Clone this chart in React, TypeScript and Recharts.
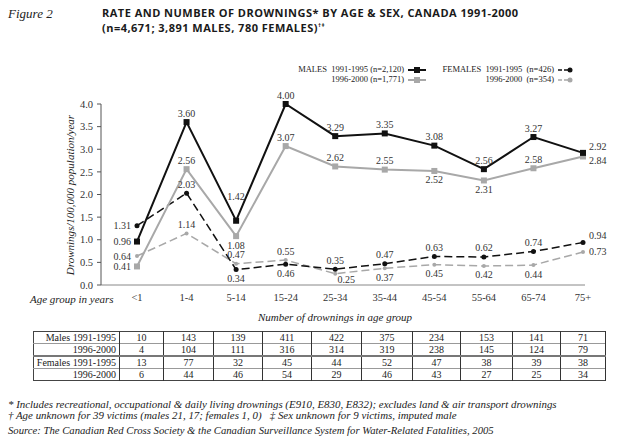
import { LineChart, Line, XAxis, YAxis, LabelList } from "recharts"

const ageGroups = ["<1", "1-4", "5-14", "15-24", "25-34", "35-44", "45-54", "55-64", "65-74", "75+"]
const yTicks = [0, 0.5, 1, 1.5, 2, 2.5, 3, 3.5, 4]

// rates per 100,000 population per year
const males9195 = [0.96, 3.6, 1.42, 4.0, 3.29, 3.35, 3.08, 2.56, 3.27, 2.92]
const males9600 = [0.41, 2.56, 1.08, 3.07, 2.62, 2.55, 2.52, 2.31, 2.58, 2.84]
const females9195 = [1.31, 2.03, 0.34, 0.46, 0.35, 0.47, 0.63, 0.62, 0.74, 0.94]
const females9600 = [0.64, 1.14, 0.47, 0.55, 0.25, 0.37, 0.45, 0.42, 0.44, 0.73]

// number of drownings (table)
const countsMales9195 = [10, 143, 139, 411, 422, 375, 234, 153, 141, 71]
const countsMales9600 = [4, 104, 111, 316, 314, 319, 238, 145, 124, 79]
const countsFemales9195 = [13, 77, 32, 45, 44, 52, 47, 38, 39, 38]
const countsFemales9600 = [6, 44, 46, 54, 29, 46, 43, 27, 25, 34]

// where each value label sits relative to its point
const m1Place = ["left", "top", "topFar", "top", "top", "top", "top", "top", "top", "rightUp"]
const m2Place = ["left", "top", "bottom", "top", "top", "top", "bottom", "bottom", "top", "rightDown"]
const f1Place = ["left", "top", "bottom", "bottom", "top", "top", "top", "top", "top", "rightUp"]
const f2Place = ["left", "top", "top", "top", "bottomRight", "bottom", "bottom", "bottom", "bottom", "right"]

const data = ageGroups.map((age, i) => ({
  age,
  m1: males9195[i],
  m2: males9600[i],
  f1: females9195[i],
  f2: females9600[i],
}))

const tableRows = [
  { label: "Males 1991-1995", values: countsMales9195 },
  { label: "1996-2000", values: countsMales9600 },
  { label: "Females 1991-1995", values: countsFemales9195 },
  { label: "1996-2000", values: countsFemales9600 },
]

const SERIF = "'Liberation Serif', 'Times New Roman', serif"
const BLACK = "#111"
const GREY = "#a8a8a8"
const colWidths = [86, 44, 50, 49, 49, 50, 51, 48, 52, 48, 45]

function valueLabel(place: string[]) {
  return (props: any) => {
    const vb = props.viewBox || {}
    const x = vb.x ?? props.x
    const y = vb.y ?? props.y
    const p = place[props.index]
    let tx = x
    let ty = y + 3.5
    let anchor: "start" | "middle" | "end" = "middle"
    if (p === "top") ty = y - 5.5
    else if (p === "topFar") ty = y - 21
    else if (p === "bottom") ty = y + 12.5
    else if (p === "left") { tx = x - 6; anchor = "end" }
    else if (p === "right") { tx = x + 6; anchor = "start" }
    else if (p === "rightUp") { tx = x + 6; anchor = "start"; ty = y - 3 }
    else if (p === "rightDown") { tx = x + 6; anchor = "start"; ty = y + 8 }
    else if (p === "bottomRight") { tx = x + 11; ty = y + 9 }
    return (
      <text x={tx} y={ty} textAnchor={anchor} fontSize={10} fontFamily={SERIF} fill="#333">
        {Number(props.value).toFixed(2)}
      </text>
    )
  }
}

function squareDot(color: string) {
  return (p: any) => (
    <rect key={`sq-${p.index}`} x={p.cx - 3} y={p.cy - 3} width={6} height={6} fill={color} />
  )
}

function roundDot(color: string, r: number) {
  return (p: any) => <circle key={`c-${p.index}`} cx={p.cx} cy={p.cy} r={r} fill={color} />
}

function LegendKey({ color, square, dashed }: { color: string; square: boolean; dashed?: boolean }) {
  return (
    <svg width={20} height={8} style={{ verticalAlign: "middle", marginLeft: 4 }}>
      <line x1={0} y1={4} x2={square ? 18 : 12} y2={4} stroke={color} strokeWidth={square ? 2 : 1.5} strokeDasharray={dashed ? "4 2" : undefined} />
      {square ? <rect x={6} y={1} width={6} height={6} fill={color} /> : <circle cx={12} cy={4} r={2.5} fill={color} />}
    </svg>
  )
}

const abs = (left: number, top: number, extra: any = {}) => ({ position: "absolute" as const, left, top, ...extra })

export default function App() {
  return (
    <div style={{ position: "absolute", left: 0, top: 0, width: 619, height: 448, background: "#fff", fontFamily: SERIF, color: "#222", overflow: "hidden" }}>
      <div style={abs(8, 6, { fontSize: 13, fontStyle: "italic", lineHeight: "16px" })}>Figure 2</div>
      <div style={abs(102, 6, { fontSize: 11, fontWeight: 700, fontFamily: "'Open Sans', sans-serif", letterSpacing: 0.48, lineHeight: "13px", color: "#1a1a1a" })}>
        RATE AND NUMBER OF DROWNINGS* BY AGE &amp; SEX, CANADA 1991-2000
        <br />
        (n=4,671; 3,891 MALES, 780 FEMALES)<sup style={{ fontSize: 6 }}>†‡</sup>
      </div>

      <div style={abs(250, 64, { fontSize: 8.5, lineHeight: "10px", textAlign: "right", width: 178, whiteSpace: "nowrap" })}>
        <div>MALES&nbsp; 1991-1995 (n=2,120)<LegendKey color={BLACK} square /></div>
        <div>1996-2000 (n=1,771)<LegendKey color={GREY} square /></div>
      </div>
      <div style={abs(400, 64, { fontSize: 8.5, lineHeight: "10px", textAlign: "right", width: 178, whiteSpace: "nowrap" })}>
        <div>FEMALES&nbsp; 1991-1995&nbsp; (n=426)<LegendKey color={BLACK} square={false} dashed /></div>
        <div>1996-2000&nbsp; (n=354)<LegendKey color={GREY} square={false} dashed /></div>
      </div>

      <div style={abs(0, 0)}>
        <LineChart width={619} height={320} data={data} margin={{ top: 104, right: 34, bottom: 5, left: 0 }}>
          <XAxis
            dataKey="age"
            padding={{ left: 36, right: 2 }}
            tickLine={false}
            tickSize={0}
            tickMargin={9}
            height={30}
            stroke="#888"
            tick={{ fill: "#333", fontSize: 10.5, fontFamily: SERIF }}
          />
          <YAxis
            domain={[0, 4]}
            ticks={yTicks}
            width={101}
            tickSize={4}
            tickMargin={4}
            stroke="#555"
            tickFormatter={(v) => Number(v).toFixed(1)}
            tick={{ fill: "#333", fontSize: 10.5, fontFamily: SERIF }}
          />
          <Line dataKey="f2" stroke={GREY} strokeWidth={1.5} strokeDasharray="8 4" dot={roundDot(GREY, 2)} isAnimationActive={false}>
            <LabelList dataKey="f2" content={valueLabel(f2Place)} />
          </Line>
          <Line dataKey="f1" stroke={BLACK} strokeWidth={1.5} strokeDasharray="8 4" dot={roundDot(BLACK, 2.5)} isAnimationActive={false}>
            <LabelList dataKey="f1" content={valueLabel(f1Place)} />
          </Line>
          <Line dataKey="m2" stroke={GREY} strokeWidth={2} dot={squareDot(GREY)} isAnimationActive={false}>
            <LabelList dataKey="m2" content={valueLabel(m2Place)} />
          </Line>
          <Line dataKey="m1" stroke={BLACK} strokeWidth={2} dot={squareDot(BLACK)} isAnimationActive={false}>
            <LabelList dataKey="m1" content={valueLabel(m1Place)} />
          </Line>
        </LineChart>
      </div>

      <div style={abs(-55, 188, { width: 250, textAlign: "center", transform: "rotate(-90deg)", fontSize: 11, fontStyle: "italic", lineHeight: "14px" })}>
        Drownings/100,000 population/year
      </div>
      <div style={abs(30, 292, { fontSize: 11, fontStyle: "italic", lineHeight: "14px" })}>Age group in years</div>
      <div style={abs(235, 310, { width: 200, textAlign: "center", fontSize: 11, fontStyle: "italic", lineHeight: "14px" })}>
        Number of drownings in age group
      </div>

      <table style={{ ...abs(33, 331), borderCollapse: "collapse", tableLayout: "fixed", width: 572, fontSize: 10, lineHeight: "11px", border: "1px solid #444" }}>
        <colgroup>
          {colWidths.map((w, i) => <col key={i} style={{ width: w }} />)}
        </colgroup>
        <tbody>
          {tableRows.map((row, r) => (
            <tr key={r} style={{ height: 12, borderTop: r === 2 ? "2px solid #777" : r === 0 ? undefined : "1px solid #999" }}>
              <td style={{ textAlign: "right", padding: "0 3px 0 0", borderRight: "1px solid #333", whiteSpace: "nowrap" }}>{row.label}</td>
              {row.values.map((v, i) => (
                <td key={i} style={{ textAlign: "center", padding: 0, borderRight: "1px solid #333" }}>{v}</td>
              ))}
            </tr>
          ))}
        </tbody>
      </table>

      <div style={abs(8, 399, { fontSize: 10.9, fontStyle: "italic", lineHeight: "11px", whiteSpace: "nowrap" })}>
        * Includes recreational, occupational &amp; daily living drownings (E910, E830, E832); excludes land &amp; air transport drownings
        <br />
        † Age unknown for 39 victims (males 21, 17; females 1, 0)&nbsp;&nbsp; ‡ Sex unknown for 9 victims, imputed male
      </div>
      <div style={abs(8, 424, { fontSize: 10.7, fontStyle: "italic", lineHeight: "12px", whiteSpace: "nowrap" })}>
        Source: The Canadian Red Cross Society &amp; the Canadian Surveillance System for Water-Related Fatalities, 2005
      </div>
    </div>
  )
}
